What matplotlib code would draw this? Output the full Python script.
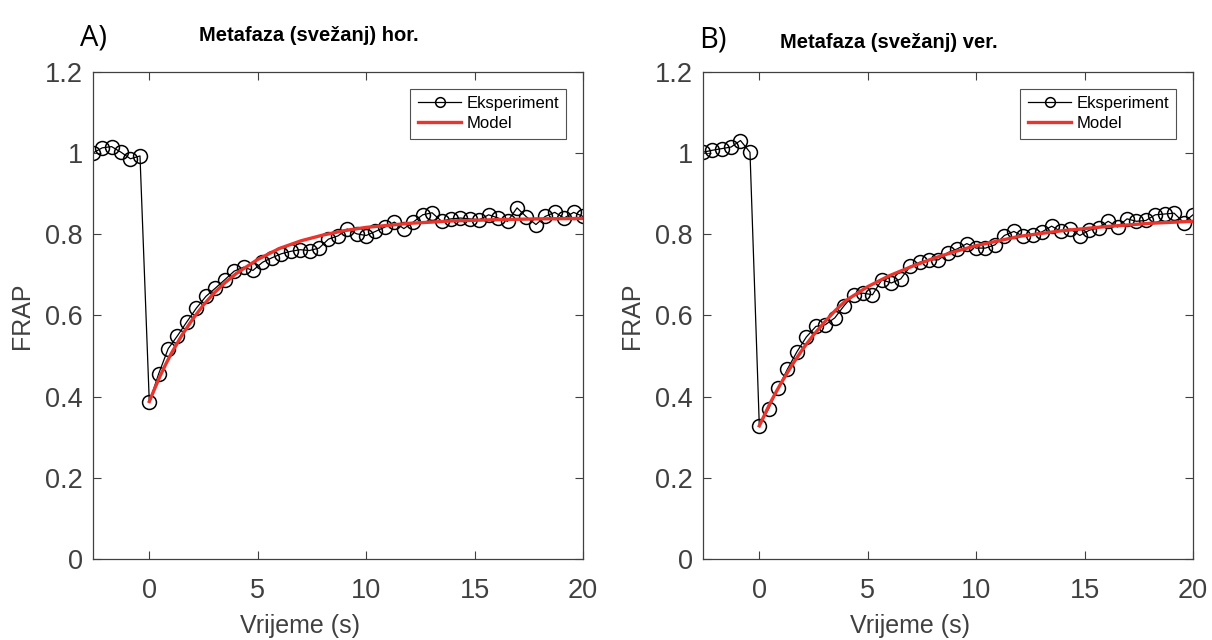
import matplotlib
matplotlib.use("Agg")
import matplotlib.pyplot as plt
from matplotlib.ticker import FuncFormatter

plt.rcParams['font.family'] = ['Liberation Sans', 'DejaVu Sans']

# sample times (s), 6 frames before bleach + 47 after
time = [-2.61, -2.17, -1.74, -1.30, -0.87, -0.43,
        0.00, 0.43, 0.87, 1.30, 1.74, 2.17, 2.61, 3.04, 3.48, 3.91,
        4.35, 4.78, 5.22, 5.65, 6.09, 6.52, 6.96, 7.39, 7.83, 8.26,
        8.70, 9.13, 9.57, 10.00, 10.43, 10.87, 11.30, 11.74, 12.17, 12.61,
        13.04, 13.48, 13.91, 14.35, 14.78, 15.22, 15.65, 16.09, 16.52, 16.96,
        17.39, 17.83, 18.26, 18.70, 19.13, 19.57, 20.00]

frap_hor = [1.000, 1.013, 1.016, 1.002, 0.986, 0.993,
            0.386, 0.456, 0.518, 0.550, 0.585, 0.618, 0.647, 0.667, 0.688, 0.709,
            0.719, 0.711, 0.731, 0.742, 0.752, 0.758, 0.762, 0.760, 0.766, 0.788,
            0.796, 0.813, 0.801, 0.797, 0.807, 0.818, 0.830, 0.814, 0.830, 0.848,
            0.853, 0.832, 0.838, 0.840, 0.838, 0.836, 0.848, 0.840, 0.832, 0.865,
            0.843, 0.824, 0.844, 0.854, 0.840, 0.854, 0.844]

frap_ver = [1.002, 1.007, 1.011, 1.015, 1.031, 1.002,
            0.328, 0.370, 0.421, 0.468, 0.511, 0.547, 0.573, 0.577, 0.594, 0.624,
            0.651, 0.655, 0.651, 0.688, 0.680, 0.690, 0.721, 0.731, 0.737, 0.737,
            0.755, 0.764, 0.777, 0.766, 0.766, 0.774, 0.797, 0.807, 0.795, 0.799,
            0.806, 0.820, 0.807, 0.813, 0.797, 0.810, 0.816, 0.832, 0.818, 0.838,
            0.832, 0.834, 0.848, 0.850, 0.852, 0.829, 0.848]

# fitted model curves
model_time = [0, 0.25, 0.5, 0.75, 1, 1.5, 2, 2.5, 3, 3.5, 4, 5, 6, 7, 8, 9,
              10, 12, 14, 16, 18, 20]
model_hor = [0.388, 0.420, 0.451, 0.479, 0.505, 0.551, 0.591, 0.626, 0.656,
             0.681, 0.703, 0.738, 0.765, 0.784, 0.798, 0.809, 0.817, 0.827,
             0.833, 0.836, 0.838, 0.839]
model_ver = [0.328, 0.356, 0.384, 0.409, 0.433, 0.477, 0.517, 0.552, 0.583,
             0.612, 0.637, 0.671, 0.698, 0.720, 0.740, 0.757, 0.772, 0.795,
             0.809, 0.819, 0.827, 0.832]

# tag, title, data, model, axes left, title x, title y, tag x, tag y
panels = [
    ('A)', 'Metafaza (svežanj) hor.', frap_hor, model_hor, 0.0765, 0.255, 0.945, 0.077, 0.940),
    ('B)', 'Metafaza (svežanj) ver.', frap_ver, model_ver, 0.5798, 0.733, 0.934, 0.588, 0.937),
]

GRAY = '#404040'

fig = plt.figure(figsize=(12.12, 6.4), dpi=100)

for tag, title, frap, model, left, tx, ty, gx, gy in panels:
    ax = fig.add_axes([left, 0.1266, 0.4045, 0.761])
    ax.plot(time, frap, color='black', linewidth=0.9, marker='o',
            markersize=10, markerfacecolor='none', markeredgewidth=1.1,
            label='Eksperiment')
    ax.plot(model_time, model, color='#e8352e', linewidth=2.4, label='Model')

    ax.set_xlim(time[0], 20)
    ax.set_ylim(0, 1.2)
    ax.set_xticks([0, 5, 10, 15, 20])
    ax.set_yticks([0, 0.2, 0.4, 0.6, 0.8, 1.0, 1.2])
    ax.yaxis.set_major_formatter(FuncFormatter(lambda v, p: f'{v:g}'))
    ax.tick_params(direction='in', top=True, right=True, length=6,
                   width=0.8, colors=GRAY, labelsize=19.5)
    ax.tick_params(axis='x', pad=14)
    ax.tick_params(axis='y', pad=7)
    for sp in ax.spines.values():
        sp.set_color(GRAY)
        sp.set_linewidth(0.9)

    ax.set_xlabel('Vrijeme (s)', fontsize=18, color=GRAY, labelpad=6)
    ax.xaxis.set_label_coords(0.422, -0.112)
    ax.set_ylabel('FRAP', fontsize=18, color=GRAY, labelpad=8)

    leg = ax.legend(loc='upper right', fontsize=12, frameon=True,
                    fancybox=False, handlelength=2.6, borderaxespad=1.0,
                    handletextpad=0.3, borderpad=0.45, labelspacing=0.3,
                    markerscale=0.7)
    leg.get_frame().set_edgecolor('#262626')
    leg.get_frame().set_linewidth(0.8)

    fig.text(tx, ty, title, fontsize=14.5, fontweight='bold',
             ha='center', va='center', color='black')
    fig.text(gx, gy, tag, fontsize=21, ha='center', va='center',
             color='black', family=['Open Sans', 'DejaVu Sans'])

plt.savefig('out.png', dpi=100)
